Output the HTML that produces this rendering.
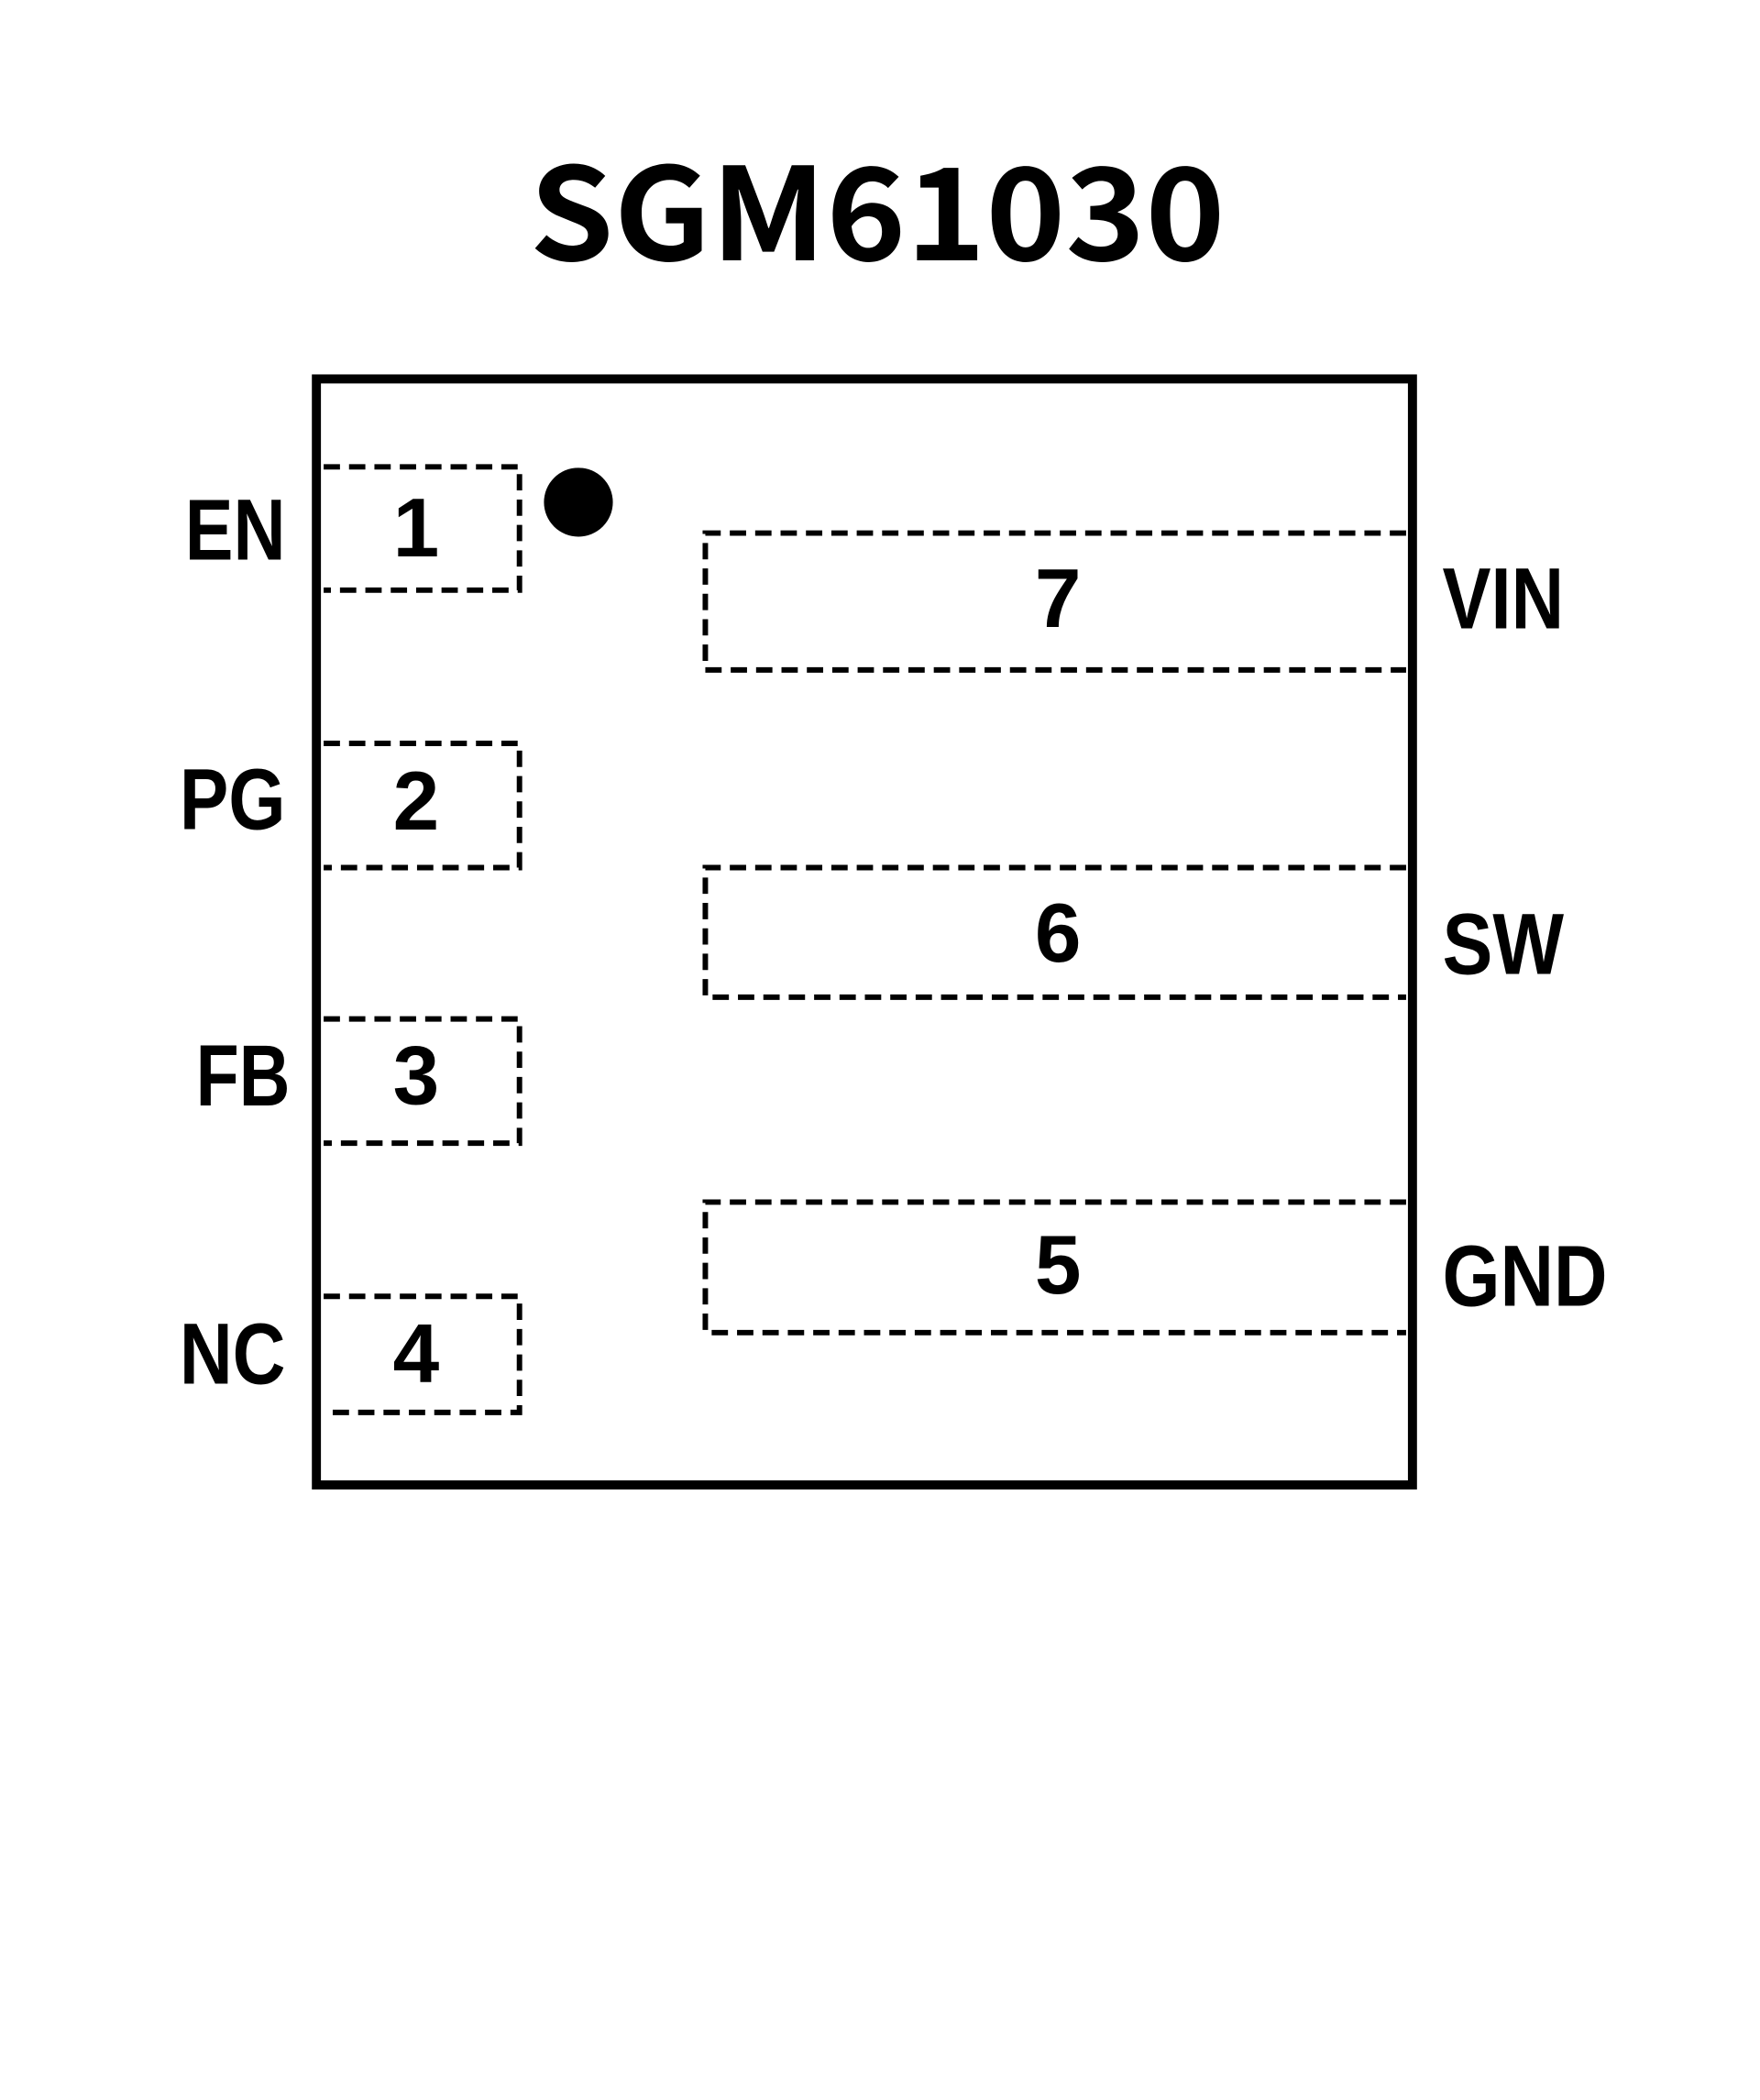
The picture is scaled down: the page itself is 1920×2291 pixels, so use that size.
<!DOCTYPE html>
<html><head><meta charset="utf-8"><style>
html,body{margin:0;padding:0;background:#fff;}
svg{display:block;}
</style></head><body>
<svg width="1920" height="2291" viewBox="0 0 1920 2291" xmlns="http://www.w3.org/2000/svg">
<rect width="1920" height="2291" fill="#fff"/>
<text x="957" y="224" dominant-baseline="central" text-anchor="middle" font-family="'Noto Sans CJK SC','Liberation Sans',sans-serif" font-weight="bold" font-size="140" textLength="759" lengthAdjust="spacingAndGlyphs">SGM61030</text>
<g transform="scale(0.989)">
<rect x="349" y="418" width="1209" height="1220" fill="none" stroke="#000" stroke-width="10"/>
<g fill="none" stroke="#000" stroke-width="6" stroke-dasharray="18 10">
<path d="M357 515 H573 V651 H357"/>
<path d="M357 820 H573 V957 H357"/>
<path d="M357 1124 H573 V1261 H357"/>
<path d="M357 1430 H573 V1558 H357"/>
<path d="M1551 588 H778 V739 H1551"/>
<path d="M1551 957 H778 V1100 H1551"/>
<path d="M1551 1326 H778 V1470 H1551"/>
</g>
<circle cx="638" cy="554" r="38" fill="#000"/>
<g font-family="'Liberation Sans',sans-serif" font-weight="bold" font-size="92" fill="#000" text-anchor="middle" dominant-baseline="central">
<text x="459" y="583">1</text>
<text x="459" y="884">2</text>
<text x="459" y="1187">3</text>
<text x="459" y="1494">4</text>
<text x="1167" y="661">7</text>
<text x="1167" y="1030">6</text>
<text x="1167" y="1396">5</text>
</g>
<g font-family="'Liberation Sans',sans-serif" font-weight="bold" font-size="96" fill="#000" dominant-baseline="central">
<text x="315" y="585" text-anchor="end" textLength="111" lengthAdjust="spacingAndGlyphs">EN</text>
<text x="315" y="882" text-anchor="end" textLength="117" lengthAdjust="spacingAndGlyphs">PG</text>
<text x="320" y="1187" text-anchor="end" textLength="104" lengthAdjust="spacingAndGlyphs">FB</text>
<text x="315" y="1494" text-anchor="end" textLength="117" lengthAdjust="spacingAndGlyphs">NC</text>
<text x="1591" y="661" textLength="134" lengthAdjust="spacingAndGlyphs">VIN</text>
<text x="1591" y="1042" textLength="134" lengthAdjust="spacingAndGlyphs">SW</text>
<text x="1591" y="1408" textLength="182" lengthAdjust="spacingAndGlyphs">GND</text>
</g>
</g>
</svg>
</body></html>
